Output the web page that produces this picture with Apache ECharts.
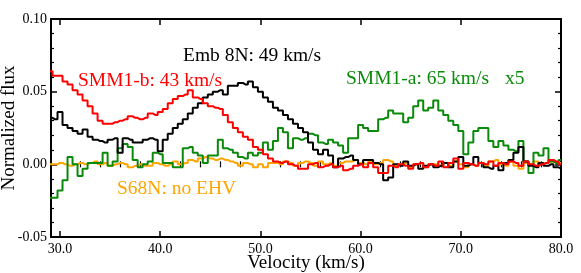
<!DOCTYPE html>
<html><head><meta charset="utf-8">
<script src="https://cdn.jsdelivr.net/npm/echarts@6/dist/echarts.min.js"></script>
<style>html,body{margin:0;padding:0;background:#fff}#c{width:581px;height:273px}</style>
</head><body><div id="c"></div>
<script>
// Velocity bins (km/s), 0.5 km/s step
const velocity = [];
for (let i = 0; i <= 102; i++) velocity.push(+(29 + i * 0.5).toFixed(1));

const smm1b = [0.064,0.061,0.061,0.057,0.055,0.051,0.048,0.044,0.040,0.035,0.030,0.028,0.028,0.029,0.030,0.031,0.033,0.032,0.031,0.032,0.035,0.034,0.036,0.038,0.042,0.045,0.047,0.048,0.051,0.046,0.045,0.042,0.040,0.039,0.038,0.034,0.029,0.025,0.022,0.019,0.017,0.012,0.010,0.007,0.004,0.002,0.001,0.002,0.000,-0.001,-0.003,-0.003,0.000,0.001,-0.002,-0.001,0.000,-0.002,-0.001,-0.004,-0.003,-0.001,0.000,-0.002,0.001,-0.002,-0.006,-0.006,-0.001,-0.002,0.000,-0.001,-0.003,0.000,0.001,-0.002,0.000,-0.001,0.002,-0.002,0.001,0.004,-0.003,0.001,0.000,-0.001,0.001,0.000,0.002,-0.001,0.001,0.000,0.002,0.001,-0.001,0.002,0.000,-0.001,0.000,0.001,0.003,0.002,0.000];

const emb8n = [0.032,0.031,0.036,0.027,0.025,0.023,0.021,0.024,0.019,0.017,0.016,0.015,0.017,0.018,0.008,0.018,0.017,0.015,0.015,0.017,0.018,0.017,0.009,0.017,0.021,0.025,0.028,0.031,0.035,0.039,0.042,0.046,0.048,0.050,0.051,0.048,0.054,0.054,0.056,0.055,0.057,0.053,0.050,0.046,0.043,0.039,0.037,0.034,0.031,0.028,0.025,0.022,0.015,0.010,0.007,0.010,0.006,-0.002,0.004,0.005,0.006,0.003,0.000,0.003,0.003,0.001,0.000,-0.011,-0.009,0.000,-0.001,0.002,-0.001,0.000,-0.003,-0.001,0.000,-0.002,-0.001,0.001,-0.002,0.002,0.005,-0.001,0.000,0.005,0.001,-0.002,-0.003,-0.001,-0.004,0.001,0.003,0.008,0.012,0.002,-0.001,-0.002,0.001,-0.001,0.000,-0.002,-0.003];

const smm1a = [-0.023,-0.023,-0.018,-0.011,0.005,0.000,-0.008,-0.003,0.001,0.001,0.001,0.008,-0.001,0.002,0.011,0.014,0.012,0.003,-0.002,0.000,0.002,0.008,0.007,0.001,0.001,-0.002,-0.002,0.011,0.012,0.008,0.006,0.001,0.006,0.006,0.017,0.011,0.010,0.008,0.005,0.004,0.008,0.006,0.008,0.015,0.010,0.016,0.025,0.022,0.011,0.018,0.017,0.018,0.021,0.020,0.015,0.014,0.017,0.015,0.013,0.008,0.018,0.018,0.027,0.025,0.023,0.023,0.031,0.032,0.037,0.035,0.035,0.029,0.032,0.040,0.044,0.037,0.039,0.044,0.037,0.034,0.030,0.027,0.023,0.007,0.015,0.023,0.025,0.025,0.016,0.012,0.016,0.013,0.010,0.009,0.016,0.002,-0.006,0.008,0.006,0.011,0.002,0.001,0.003];

const s68n = [0.000,0.000,0.001,0.000,-0.001,0.000,0.001,0.000,0.001,0.002,0.000,0.001,-0.001,0.000,0.001,0.000,-0.002,-0.001,0.000,-0.001,-0.001,0.001,0.000,-0.001,0.000,0.002,0.000,0.001,0.003,0.002,0.004,0.005,0.004,0.003,0.004,0.003,0.002,0.001,-0.001,0.001,0.000,-0.002,0.000,-0.002,0.001,0.001,0.000,0.002,0.001,-0.001,0.001,0.002,0.001,-0.001,0.002,0.000,0.001,-0.001,0.001,0.002,0.002,0.003,0.001,0.000,0.002,0.000,0.001,0.003,0.002,-0.001,0.000,0.001,-0.002,0.000,0.001,-0.002,0.000,0.000,-0.001,0.001,-0.001,0.002,0.000,-0.002,0.000,-0.001,0.001,-0.001,0.002,0.003,0.000,-0.001,0.002,-0.001,-0.003,0.001,0.000,0.002,0.000,0.001,0.002,0.001,0.001];

const xMajor = [30, 40, 50, 60, 70, 80];
const xMinor = [32,34,36,38,42,44,46,48,52,54,56,58,62,64,66,68,72,74,76,78];

const FONT = '"Liberation Serif", "DejaVu Serif", serif';
const pair = arr => velocity.map((v, i) => [v, arr[i]]);

const chart = echarts.init(document.getElementById('c'), null, {renderer: 'canvas'});
const baseX = {type: 'value', min: 29.1, max: 80, splitLine: {show: false}, axisLine: {show: true, onZero: false, lineStyle: {color: '#000', width: 2}}};
const baseY = {type: 'value', min: -0.05, max: 0.10, interval: 0.05, splitLine: {show: false}, axisLine: {show: true, onZero: false, lineStyle: {color: '#000', width: 2}}};

const line = (name, data, color) => ({
  name, type: 'line', step: 'middle', data: pair(data), showSymbol: false, symbol: 'none',
  lineStyle: {color, width: 2}, itemStyle: {color}, animation: false, clip: true
});

chart.setOption({
  animation: false,
  backgroundColor: '#fff',
  grid: {left: 51, right: 20, top: 19, bottom: 36, containLabel: false, outerBoundsMode: 'none'},
  xAxis: [
    Object.assign({}, baseX, {position: 'bottom', name: 'Velocity (km/s)', nameLocation: 'middle', nameGap: 17, nameMoveOverlap: false,
      nameTextStyle: {fontFamily: FONT, fontSize: 19, color: '#000', verticalAlign: 'top'},
      axisTick: {show: true, inside: true, length: 6, customValues: xMajor, lineStyle: {color: '#000', width: 1.5}},
      axisLabel: {show: true, customValues: xMajor, formatter: v => v.toFixed(1), fontFamily: FONT, fontSize: 14, color: '#000', margin: 5}}),
    Object.assign({}, baseX, {position: 'bottom', axisLine: {show: false},
      axisTick: {show: true, inside: true, length: 3, customValues: xMinor, lineStyle: {color: '#000', width: 1.2}},
      axisLabel: {show: false}}),
    Object.assign({}, baseX, {position: 'top',
      axisTick: {show: true, inside: true, length: 6, customValues: xMajor, lineStyle: {color: '#000', width: 1.5}},
      axisLabel: {show: false}}),
    Object.assign({}, baseX, {position: 'top', axisLine: {show: false},
      axisTick: {show: true, inside: true, length: 3, customValues: xMinor, lineStyle: {color: '#000', width: 1.2}},
      axisLabel: {show: false}})
  ],
  yAxis: [
    Object.assign({}, baseY, {position: 'left', name: 'Normalized flux', nameLocation: 'middle', nameGap: 32, nameMoveOverlap: false,
      nameTextStyle: {fontFamily: FONT, fontSize: 19, color: '#000'},
      axisTick: {show: true, inside: true, length: 6, lineStyle: {color: '#000', width: 1.5}},
      minorTick: {show: true, splitNumber: 5, length: 3, lineStyle: {color: '#000', width: 1.2}},
      axisLabel: {show: true, formatter: v => v.toFixed(2), fontFamily: FONT, fontSize: 14, color: '#000', margin: 4}}),
    Object.assign({}, baseY, {position: 'right',
      axisTick: {show: true, inside: true, length: 6, lineStyle: {color: '#000', width: 1.5}},
      minorTick: {show: true, splitNumber: 5, length: 3, lineStyle: {color: '#000', width: 1.2}},
      axisLabel: {show: false}})
  ],
  series: [
    line('S68N', s68n, '#ffa500'),
    line('SMM1-a', smm1a, '#0a8a0a'),
    line('Emb 8N', emb8n, '#000000'),
    line('SMM1-b', smm1b, '#ff0000')
  ],
  graphic: [
    {type: 'text', left: 183, top: 46, style: {text: 'Emb 8N: 49 km/s', font: '19.5px ' + FONT, fill: '#000'}},
    {type: 'text', left: 78, top: 71, style: {text: 'SMM1-b: 43 km/s', font: '19.5px ' + FONT, fill: '#ff0000'}},
    {type: 'text', left: 346, top: 69, style: {text: 'SMM1-a: 65 km/s', font: '19.5px ' + FONT, fill: '#0a8a0a'}},
    {type: 'text', left: 505, top: 69, style: {text: 'x5', font: '19.5px ' + FONT, fill: '#0a8a0a'}},
    {type: 'text', left: 117, top: 179, style: {text: 'S68N: no EHV', font: '19.5px ' + FONT, fill: '#ffa500'}}
  ]
});
</script></body></html>
